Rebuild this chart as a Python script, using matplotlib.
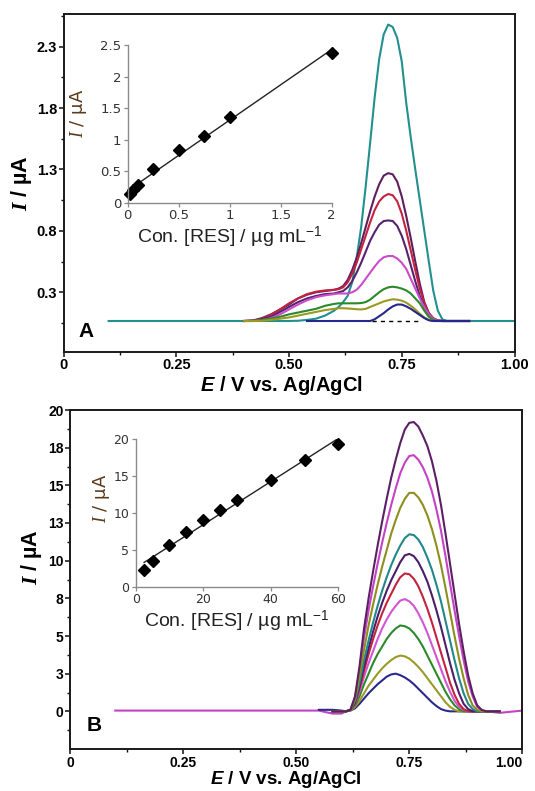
import numpy as np
import matplotlib.pyplot as plt
from matplotlib.ticker import FixedLocator

plt.rcParams['font.family'] = ['Liberation Sans', 'DejaVu Sans']
plt.rcParams['mathtext.fontset'] = 'custom'
plt.rcParams['mathtext.rm'] = 'Liberation Sans'
plt.rcParams['mathtext.bf'] = 'Liberation Serif:italic:bold'
plt.rcParams['mathtext.it'] = 'Liberation Serif:italic'
plt.rcParams['mathtext.sf'] = 'Liberation Sans:italic:bold'

nan = np.nan

# ---- panel A : voltammograms (E / V, I / uA) ----
E_a = [0.10, 0.40, 0.42, 0.44, 0.46, 0.48, 0.50, 0.52, 0.54, 0.56, 0.58, 0.60,
       0.61, 0.62, 0.63, 0.64, 0.65, 0.66, 0.67, 0.68, 0.69, 0.70, 0.71, 0.72, 0.73,
       0.74, 0.75, 0.76, 0.77, 0.78, 0.79, 0.80, 0.81, 0.82, 0.83, 0.84, 0.85, 0.86,
       0.88, 0.90, 1.00]
teal_a = [0.066, 0.066, 0.066, 0.066, 0.066, 0.066, 0.066, 0.068, 0.075, 0.085, 0.11, 0.15,
          0.18, 0.22, 0.27, 0.38, 0.58, 0.83, 1.16, 1.52, 1.89, 2.20, 2.40, 2.48, 2.46,
          2.37, 2.18, 1.84, 1.56, 1.30, 1.05, 0.80, 0.55, 0.31, 0.15, 0.08, 0.066, 0.066,
          0.066, 0.066, 0.066]
plum_a = [nan, 0.066, 0.07, 0.09, 0.12, 0.16, 0.20, 0.25, 0.28, 0.30, 0.31, 0.32,
          0.33, 0.35, 0.40, 0.48, 0.58, 0.70, 0.83, 0.96, 1.08, 1.18, 1.25, 1.27, 1.26,
          1.20, 1.08, 0.92, 0.74, 0.55, 0.37, 0.22, 0.13, 0.085, 0.07, 0.066, 0.066, 0.066,
          0.066, 0.066, nan]
red_a = [nan, 0.066, 0.068, 0.085, 0.115, 0.16, 0.21, 0.25, 0.285, 0.305, 0.315, 0.32,
         0.325, 0.34, 0.38, 0.45, 0.54, 0.65, 0.76, 0.87, 0.97, 1.04, 1.08, 1.10, 1.09,
         1.04, 0.94, 0.80, 0.64, 0.48, 0.33, 0.21, 0.13, 0.09, 0.07, 0.066, 0.066, 0.066,
         0.066, 0.066, nan]
purple_a = [nan, 0.066, 0.068, 0.08, 0.10, 0.14, 0.18, 0.22, 0.25, 0.27, 0.285, 0.29,
            0.30, 0.31, 0.34, 0.39, 0.46, 0.54, 0.63, 0.72, 0.79, 0.85, 0.88, 0.885, 0.88,
            0.84, 0.76, 0.65, 0.52, 0.39, 0.27, 0.18, 0.12, 0.085, 0.07, 0.066, 0.066, 0.066,
            0.066, 0.066, nan]
magenta_a = [nan, 0.066, 0.066, 0.072, 0.09, 0.12, 0.16, 0.20, 0.235, 0.26, 0.275, 0.285,
             0.29, 0.29, 0.29, 0.30, 0.32, 0.36, 0.41, 0.46, 0.51, 0.555, 0.585, 0.595, 0.595,
             0.575, 0.54, 0.49, 0.41, 0.33, 0.25, 0.18, 0.12, 0.085, 0.07, 0.066, 0.066, 0.066,
             0.066, 0.066, nan]
green_a = [nan, 0.066, 0.067, 0.075, 0.085, 0.10, 0.12, 0.135, 0.15, 0.165, 0.19, 0.205,
           0.21, 0.21, 0.21, 0.21, 0.21, 0.212, 0.22, 0.24, 0.27, 0.30, 0.325, 0.34, 0.345,
           0.34, 0.33, 0.315, 0.29, 0.25, 0.21, 0.15, 0.10, 0.075, 0.066, 0.066, 0.066, 0.066,
           0.066, 0.066, nan]
olive_a = [nan, 0.066, 0.066, 0.068, 0.075, 0.085, 0.095, 0.11, 0.125, 0.14, 0.155, 0.165,
           0.17, 0.17, 0.168, 0.165, 0.162, 0.16, 0.165, 0.18, 0.195, 0.21, 0.225, 0.235, 0.243,
           0.24, 0.232, 0.215, 0.19, 0.16, 0.125, 0.095, 0.075, 0.066, 0.066, 0.066, 0.066, 0.066,
           0.066, 0.066, nan]
navy_a = [nan, nan, nan, nan, nan, nan, nan, nan, 0.066, 0.066, 0.066, 0.066,
          0.066, 0.066, 0.066, 0.066, 0.066, 0.066, 0.066, 0.066, 0.08, 0.105, 0.13, 0.16, 0.185,
          0.20, 0.20, 0.185, 0.165, 0.14, 0.115, 0.09, 0.072, 0.066, 0.066, 0.066, 0.066, 0.066,
          0.066, 0.066, nan]
dash_e = [0.685, 0.79]
dash_i = [0.066, 0.066]

# ---- panel B ----
E_b = [0.10, 0.55, 0.58, 0.60,
       0.61, 0.62, 0.63, 0.64, 0.65, 0.66, 0.67, 0.68, 0.69, 0.70, 0.71, 0.72, 0.73,
       0.74, 0.75, 0.76, 0.77, 0.78, 0.79, 0.80, 0.81, 0.82, 0.83, 0.84, 0.85, 0.86,
       0.87, 0.88, 0.89, 0.90, 0.91, 0.92,
       0.95, 1.00]
plum_b = [nan, nan, 0.0, 0.0,
          0.0, 0.1, 1.0, 3.0, 5.5, 7.5, 9.3, 11.0, 12.6, 14.1, 15.5, 16.7, 17.8,
          18.7, 19.15, 19.2, 18.9, 18.3, 17.6, 16.6, 15.3, 13.7, 11.8, 9.8, 7.8, 5.8,
          4.0, 2.4, 1.2, 0.4, 0.1, 0.0,
          0.0, nan]
magenta_b = [0.05, 0.05, -0.15, -0.15,
             0.0, 0.1, 0.9, 2.7, 4.9, 6.7, 8.3, 9.8, 11.2, 12.5, 13.7, 14.8, 15.8,
             16.5, 16.95, 17.0, 16.7, 16.2, 15.5, 14.6, 13.4, 12.0, 10.3, 8.5, 6.7, 5.0,
             3.4, 2.0, 1.0, 0.3, 0.05, 0.0,
             -0.1, 0.05]
olive_b = [nan, nan, 0.0, 0.0,
           0.0, 0.1, 0.8, 2.3, 4.1, 5.7, 7.1, 8.4, 9.6, 10.7, 11.8, 12.7, 13.5,
           14.1, 14.5, 14.5, 14.2, 13.7, 13.0, 12.1, 11.0, 9.7, 8.2, 6.6, 5.0, 3.5,
           2.2, 1.1, 0.4, 0.1, 0.0, 0.0,
           0.0, nan]
teal_b = [nan, nan, 0.0, 0.0,
          0.0, 0.1, 0.7, 1.9, 3.4, 4.7, 5.9, 7.0, 8.0, 8.9, 9.7, 10.4, 11.0,
          11.5, 11.75, 11.7, 11.4, 10.9, 10.2, 9.4, 8.4, 7.3, 6.0, 4.7, 3.4, 2.2,
          1.2, 0.5, 0.15, 0.0, 0.0, 0.0,
          0.0, nan]
indigo_b = [nan, nan, 0.0, 0.0,
            0.0, 0.1, 0.6, 1.7, 3.0, 4.2, 5.3, 6.3, 7.2, 8.0, 8.7, 9.3, 9.9,
            10.35, 10.45, 10.3, 9.9, 9.3, 8.6, 7.7, 6.7, 5.6, 4.4, 3.2, 2.1, 1.2,
            0.5, 0.15, 0.0, 0.0, 0.0, 0.0,
            0.0, nan]
red_b = [nan, nan, 0.0, 0.0,
         0.0, 0.1, 0.5, 1.5, 2.7, 3.8, 4.8, 5.7, 6.5, 7.2, 7.8, 8.4, 8.9,
         9.15, 9.1, 8.8, 8.3, 7.6, 6.8, 5.9, 4.9, 3.9, 2.9, 1.9, 1.1, 0.5,
         0.15, 0.0, 0.0, 0.0, 0.0, 0.0,
         0.0, nan]
orchid_b = [nan, nan, 0.0, 0.0,
            0.0, 0.1, 0.5, 1.3, 2.3, 3.2, 4.0, 4.8, 5.5, 6.1, 6.6, 7.0, 7.35,
            7.45, 7.3, 7.0, 6.5, 5.9, 5.2, 4.4, 3.6, 2.8, 2.0, 1.3, 0.7, 0.3,
            0.1, 0.0, 0.0, 0.0, 0.0, 0.0,
            0.0, nan]
green_b = [nan, nan, 0.0, 0.0,
           0.0, 0.1, 0.4, 1.0, 1.8, 2.5, 3.2, 3.8, 4.3, 4.8, 5.2, 5.5, 5.7,
           5.65, 5.5, 5.2, 4.8, 4.3, 3.7, 3.1, 2.5, 1.9, 1.3, 0.8, 0.4, 0.15,
           0.0, 0.0, 0.0, 0.0, 0.0, 0.0,
           0.0, nan]
khaki_b = [nan, nan, 0.0, 0.0,
           0.0, 0.05, 0.3, 0.7, 1.2, 1.7, 2.1, 2.5, 2.85, 3.15, 3.4, 3.6, 3.7,
           3.65, 3.5, 3.25, 2.95, 2.6, 2.2, 1.8, 1.4, 1.0, 0.6, 0.3, 0.1, 0.0,
           0.0, 0.0, 0.0, 0.0, 0.0, 0.0,
           nan, nan]
navy_b = [nan, 0.1, 0.1, 0.05,
          0.0, 0.05, 0.2, 0.5, 0.85, 1.2, 1.5, 1.8, 2.05, 2.3, 2.45, 2.5, 2.4,
          2.25, 2.05, 1.8, 1.5, 1.2, 0.9, 0.6, 0.35, 0.15, 0.05, 0.0, 0.0, 0.0,
          0.0, 0.0, 0.0, 0.0, 0.0, 0.0,
          nan, nan]

# ---- calibration insets ----
conc_a = [0.025, 0.05, 0.1, 0.25, 0.5, 0.75, 1.0, 2.0]
ip_a = [0.13, 0.20, 0.28, 0.53, 0.84, 1.05, 1.36, 2.37]
conc_b = [2.5, 5, 10, 15, 20, 25, 30, 40, 50, 60]
ip_b = [2.26, 3.5, 5.6, 7.4, 9.0, 10.4, 11.8, 14.4, 17.1, 19.3]

fig = plt.figure(figsize=(5.35, 7.91), dpi=100)
W, H = 535.0, 791.0


def style_main(ax, yt, ylab, ymin_t, tfs, xfs):
    ax.set_xlim(0, 1)
    ax.set_xticks([0, 0.25, 0.5, 0.75, 1.0], ['0', '0.25', '0.50', '0.75', '1.00'],
                  fontweight='bold', fontsize=tfs)
    ax.xaxis.set_minor_locator(FixedLocator([0.125, 0.375, 0.625, 0.875]))
    ax.set_yticks(yt, ylab, fontweight='bold', fontsize=tfs)
    ax.yaxis.set_minor_locator(FixedLocator(ymin_t))
    ax.tick_params(which='major', direction='out', length=3.5, width=1.1, color='#111111', pad=1.2)
    ax.tick_params(which='minor', direction='out', length=2.5, width=1.0, color='#111111')
    for s in ax.spines.values():
        s.set_linewidth(1.4)
        s.set_color('#1a1a1a')
    ax.set_xlabel(r'$\mathsf{E}$ / V vs. Ag/AgCl', fontsize=xfs, fontweight='bold')
    ax.set_ylabel(r'$\mathbf{I}$ / µA', fontsize=15.5, fontweight='bold')


def style_inset(ax, xt, xl, yt, yl, fs):
    ax.patch.set_alpha(0)
    ax.spines['top'].set_visible(False)
    ax.spines['right'].set_visible(False)
    for s in ['left', 'bottom']:
        ax.spines[s].set_color('#8a8a8a')
        ax.spines[s].set_linewidth(1.0)
    ax.set_xticks(xt, xl, family='DejaVu Sans', fontsize=fs, color='#333333')
    ax.set_yticks(yt, yl, family='DejaVu Sans', fontsize=fs, color='#333333')
    ax.tick_params(direction='out', length=3, width=0.9, color='#8a8a8a', pad=1.5)
    ax.set_xlabel('Con. [RES] / µg mL$^{-1}$', fontsize=14, color='#222222', labelpad=2)
    ax.set_ylabel(r'$\mathit{I}$ / µA', fontsize=13, color='#5a3a1a', family='DejaVu Sans')


# panel A
axA = fig.add_axes([63.5 / W, (H - 351.7) / H, 451 / W, 337.7 / H])
axA.plot(E_a, teal_a, color='#22908e', lw=1.5)
for vals, col in [(plum_a, '#5e1f5e'), (red_a, '#c4233f'), (purple_a, '#55226e'),
                  (magenta_a, '#cc4acc'), (green_a, '#2a8a2a'), (olive_a, '#9a9a22'),
                  (navy_a, '#26268c')]:
    axA.plot(E_a, vals, color=col, lw=1.5)
axA.plot(dash_e, dash_i, color='black', lw=1.0, ls=(0, (3, 3)))
axA.set_ylim(-0.184, 2.566)
style_main(axA, [0.3, 0.8, 1.3, 1.8, 2.3], ['0.3', '0.8', '1.3', '1.8', '2.3'],
           [0.05, 0.55, 1.05, 1.55, 2.05, 2.55], 10.5, 14.5)
axA.xaxis.set_label_coords(0.482, -0.066)
axA.yaxis.set_label_coords(-0.065, 0.5)
axA.text(0.05, 0.06, 'A', transform=axA.transAxes, fontsize=15, fontweight='bold',
         ha='center', va='center')

# panel B
axB = fig.add_axes([70 / W, (H - 749) / H, 452.4 / W, 339 / H])
for vals, col in [(magenta_b, '#c443c4'), (navy_b, '#2a2a8c'), (khaki_b, '#9a9a2a'),
                  (green_b, '#2a8a2a'), (orchid_b, '#d255d2'), (red_b, '#c4233f'),
                  (indigo_b, '#4a1f68'), (teal_b, '#22888a'), (olive_b, '#8e8e1e'),
                  (plum_b, '#5c1f66')]:
    axB.plot(E_b, vals, color=col, lw=1.5)
axB.set_ylim(-2.5, 20)
style_main(axB, [0, 2.5, 5, 7.5, 10, 12.5, 15, 17.5, 20],
           ['0', '3', '5', '8', '10', '13', '15', '18', '20'],
           [-1.25, 1.25, 3.75, 6.25, 8.75, 11.25, 13.75, 16.25, 18.75], 10, 13.5)
axB.get_xticklabels()[-1].set_ha('right')
axB.get_xticklabels()[-1].set_x(1.0)
axB.xaxis.label.set_va('bottom')
axB.xaxis.set_label_coords(0.477, (749 - 790.0) / 339)
axB.yaxis.set_label_coords(-0.058, 0.566)
axB.text(0.053, 0.069, 'B', transform=axB.transAxes, fontsize=15, fontweight='bold',
         ha='center', va='center')

# inset A
insA = fig.add_axes([127.7 / W, (H - 202.7) / H, 204 / W, 157.7 / H])
fa = np.polyfit(conc_a, ip_a, 1)
insA.plot([conc_a[0], conc_a[-1]], np.polyval(fa, [conc_a[0], conc_a[-1]]), color='#222222', lw=1.0)
insA.plot(conc_a, ip_a, 'D', color='black', ms=6, clip_on=False)
insA.set_xlim(0, 2)
insA.set_ylim(0, 2.5)
style_inset(insA, [0, 0.5, 1, 1.5, 2], ['0', '0.5', '1', '1.5', '2'],
            [0, 0.5, 1, 1.5, 2, 2.5], ['0', '0.5', '1', '1.5', '2', '2.5'], 9.5)
insA.yaxis.set_label_coords(-0.19, 0.569)

# inset B
insB = fig.add_axes([135.7 / W, (H - 586.7) / H, 202.6 / W, 147.7 / H])
fb = np.polyfit(conc_b, ip_b, 1)
insB.plot([conc_b[0], conc_b[-1]], np.polyval(fb, [conc_b[0], conc_b[-1]]), color='#222222', lw=1.0)
insB.plot(conc_b, ip_b, 'D', color='black', ms=6, clip_on=False)
insB.set_xlim(0, 60)
insB.set_ylim(0, 20)
style_inset(insB, [0, 20, 40, 60], ['0', '20', '40', '60'],
            [0, 5, 10, 15, 20], ['0', '5', '10', '15', '20'], 9)
insB.yaxis.set_label_coords(-0.115, 0.60)

fig.savefig('out.png', dpi=100)
